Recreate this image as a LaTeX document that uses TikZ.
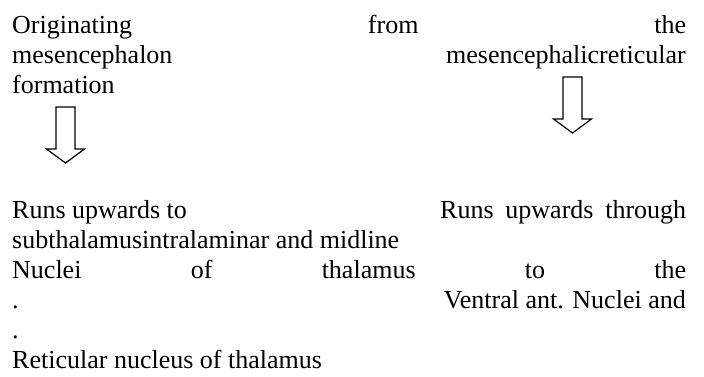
\documentclass[tikz,border=0pt]{standalone}
\usepackage{fontspec}
\setmainfont{Liberation Serif}
\usetikzlibrary{positioning}

\tikzset{
  line/.style={anchor=base west, inner sep=0pt, font=\fontsize{26bp}{30bp}\selectfont},
  rline/.style={line, anchor=base east},
  downarrow/.pic={\draw[line width=1.2bp, miter limit=10]
    (-9.5,0) -- (9.5,0) -- (9.5,42) -- (19,42) -- (0,56) -- (-19,42) -- (-9.5,42) -- cycle;}
}

\begin{document}
\begin{tikzpicture}[x=1bp, y=-1bp]
    \useasboundingbox (0,0) rectangle (704,376);
    % upper block
    \node[line] (orig) at (12,33) {\makebox[674bp][s]{Originating from the}};
    \node[line] (mesleft) at (12,63) {mesencephalon};
    \node[rline] (mesright) at (686,63) {mesencephalicreticular};
    \node[line] (form) at (12,93) {formation};
    % block arrows
    \pic at (65.5,107) {downarrow};
    \pic at (572.5,77) {downarrow};
    % lower block
    \node[line] (runsleft) at (12,218) {Runs upwards to};
    \node[line] (runsright) at (440,218) {\makebox[246bp][s]{Runs upwards through}};
    \node[line] (subthal) at (12,248) {subthalamusintralaminar and midline};
    \node[line] (nuclei) at (12,278) {\makebox[674bp][s]{Nuclei of thalamus to the}};
    \node[line] (dotone) at (12,308) {.};
    \node[rline] (ventral) at (686,308) {Ventral ant. Nuclei and};
    \node[line] (dottwo) at (12,338) {.};
    \node[line] (retic) at (12,368) {Reticular nucleus of thalamus};
\end{tikzpicture}
\end{document}
